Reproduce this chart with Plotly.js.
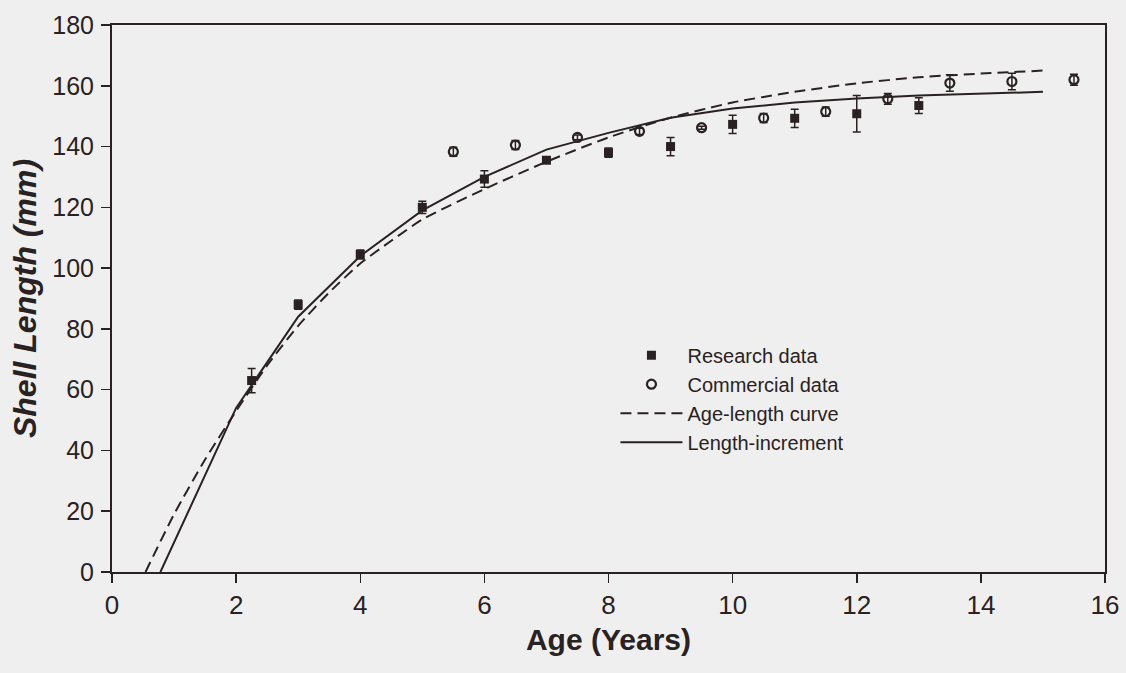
<!DOCTYPE html>
<html>
<head>
<meta charset="utf-8">
<script src="https://cdn.plot.ly/plotly-3.0.1.min.js"></script>
<style>html,body{margin:0;padding:0;background:#efefef;}</style>
</head>
<body>
<div id="chart" style="width:1126px;height:673px;"></div>
<script>
// Research data (filled squares)
const researchAge = [2.25, 3, 4, 5, 6, 7, 8, 9, 10, 11, 12, 13];
const researchLen = [63, 88, 104.5, 120, 129.3, 135.5, 138, 140, 147.3, 149.3, 150.8, 153.5];
const researchErr = [4, 1.5, 1.5, 2, 2.7, 1, 1.5, 3, 3, 3, 6, 2.6];

// Commercial data (open circles)
const commercialAge = [5.5, 6.5, 7.5, 8.5, 9.5, 10.5, 11.5, 12.5, 13.5, 14.5, 15.5];
const commercialLen = [138.3, 140.5, 143, 145, 146.2, 149.4, 151.5, 155.7, 160.9, 161.4, 162];
const commercialErr = [1.5, 1.5, 0.8, 1, 0.5, 1.5, 1.5, 1.8, 2.7, 2.7, 1.8];

// Age-length curve (dashed)
const ageCurveAge = [0.54, 1, 1.5, 2, 2.5, 3, 3.5, 4, 4.5, 5, 6, 7, 8, 9, 10, 11, 12, 13, 14, 15];
const ageCurveLen = [0, 19, 37, 53, 68, 81, 92, 101.5, 109, 116, 126, 135, 143, 149.5, 154.5, 158, 160.8, 162.8, 164, 165];

// Length-increment curve (solid)
const incCurveAge = [0.78, 2, 3, 4, 5, 6, 7, 8, 9, 10, 11, 12, 13, 14, 15];
const incCurveLen = [0, 54, 84, 104, 119, 130, 139, 144.5, 149.5, 152.5, 154.5, 155.8, 156.8, 157.4, 158];

const ink = '#2a2222';
const bg = '#efefef';

const traces = [
  {
    x: researchAge, y: researchLen, type: 'scatter', mode: 'markers', name: 'Research data',
    marker: {symbol: 'square', size: 9, color: ink},
    error_y: {type: 'data', array: researchErr, visible: true, color: ink, thickness: 1.5, width: 4}
  },
  {
    x: commercialAge, y: commercialLen, type: 'scatter', mode: 'markers', name: 'Commercial data',
    marker: {symbol: 'circle-open', size: 9, color: ink, line: {width: 2.2, color: ink}},
    error_y: {type: 'data', array: commercialErr, visible: true, color: ink, thickness: 1.5, width: 4}
  },
  {
    x: ageCurveAge, y: ageCurveLen, type: 'scatter', mode: 'lines', name: 'Age-length curve',
    line: {color: ink, width: 2, dash: '11px,6px', shape: 'spline', smoothing: 0.6}
  },
  {
    x: incCurveAge, y: incCurveLen, type: 'scatter', mode: 'lines', name: 'Length-increment',
    line: {color: ink, width: 2}
  }
];

const layout = {
  width: 1126, height: 673,
  margin: {l: 112, r: 21, t: 25, b: 101},
  paper_bgcolor: bg, plot_bgcolor: bg,
  font: {family: 'Liberation Sans, Arial, sans-serif', color: ink},
  showlegend: true,
  legend: {
    x: 0.507, y: 0.432, xanchor: 'left', yanchor: 'top',
    bgcolor: 'rgba(0,0,0,0)', borderwidth: 0,
    font: {size: 20, family: 'Liberation Sans, Arial, sans-serif', color: ink},
    tracegroupgap: 0, itemwidth: 62, itemsizing: 'trace'
  },
  xaxis: {
    range: [0, 16], dtick: 2, tick0: 0,
    showline: true, mirror: true, linecolor: ink, linewidth: 2,
    ticks: 'outside', ticklen: 9, tickwidth: 1.5, tickcolor: ink,
    showgrid: false, zeroline: false,
    tickfont: {family: 'Liberation Sans, Arial, sans-serif', size: 26, color: ink},
    ticklabelstandoff: 0,
    title: {text: '<b>Age (Years)</b>', standoff: 10,
      font: {family: 'Liberation Sans, Arial, sans-serif', size: 30, color: ink}}
  },
  yaxis: {
    range: [0, 180], dtick: 20, tick0: 0,
    showline: true, mirror: true, linecolor: ink, linewidth: 2,
    ticks: 'outside', ticklen: 9, tickwidth: 1.5, tickcolor: ink,
    showgrid: false, zeroline: false,
    tickfont: {family: 'Liberation Sans, Arial, sans-serif', size: 25, color: ink},
    ticklabelstandoff: 2,
    title: {text: '<b><i>Shell Length (mm)</i></b>', standoff: 6,
      font: {family: 'Liberation Sans, Arial, sans-serif', size: 32, color: ink}}
  }
};

Plotly.newPlot('chart', traces, layout, {displayModeBar: false, staticPlot: true});
</script>
</body>
</html>
